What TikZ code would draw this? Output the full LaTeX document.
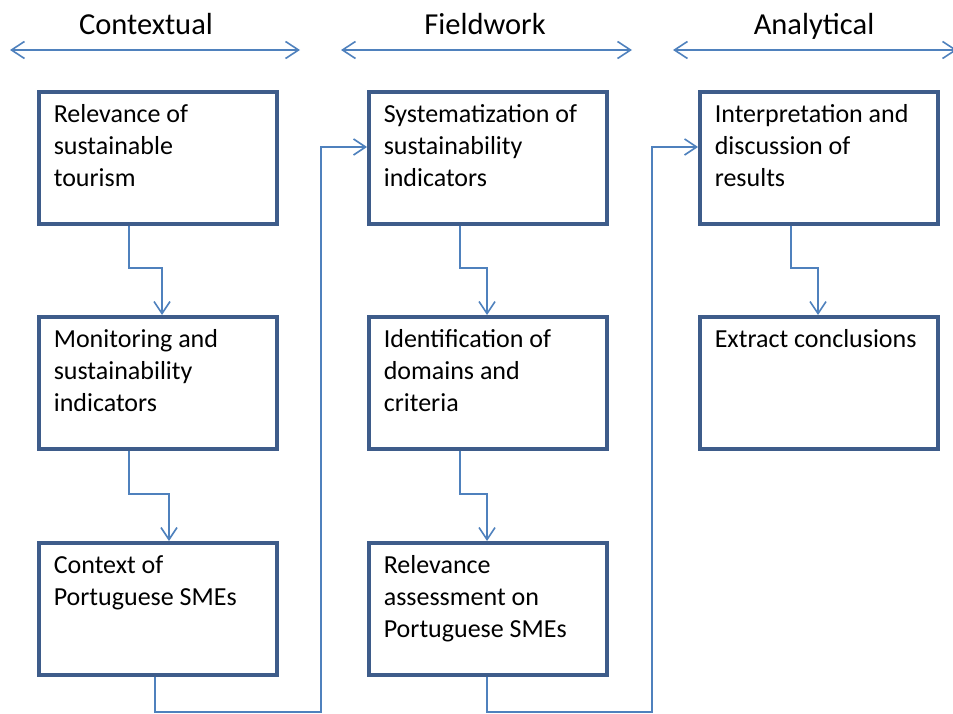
\documentclass[tikz,border=0pt]{standalone}
\usepackage{fontspec}
\setmainfont{Carlito}
\usetikzlibrary{arrows.meta,calc}
\definecolor{boxblue}{RGB}{62,92,138}
\definecolor{lineblue}{RGB}{79,129,189}
\newcommand{\boxtext}[1]{\parbox[t][106pt][t]{208pt}{\raggedright\fontsize{26pt}{32pt}\selectfont #1}}
\tikzset{
  stepbox/.style={draw=boxblue, line width=3.6pt, rectangle, minimum width=238pt, minimum height=132pt,
    inner xsep=15pt, inner ysep=13pt, anchor=north west, align=left, fill=white},
  conn/.style={draw=lineblue, line width=1.6pt, -{Straight Barb[length=12pt,width=16pt,line width=1.6pt]}},
  phase/.style={draw=lineblue, line width=1.6pt, {Straight Barb[length=13pt,width=17pt,line width=1.6pt]}-{Straight Barb[length=13pt,width=17pt,line width=1.6pt]}},
  head/.style={font=\fontsize{30.5pt}{34pt}\selectfont, inner sep=0pt, anchor=base}
}
\begin{document}
\begin{tikzpicture}[x=1pt,y=-1pt]
\useasboundingbox (0,0) rectangle (953,714);
% headers
\node[head] (h1) at (146,35) {Contextual};
\node[head] (h2) at (485,35) {Fieldwork};
\node[head] (h3) at (814,35) {Analytical};
\coordinate (a1l) at (10,50); \coordinate (a1r) at (300,50);
\coordinate (a2l) at (341,50); \coordinate (a2r) at (632,50);
\coordinate (a3l) at (673,50); \coordinate (a3r) at (957,50);
\draw[phase] (a1l) -- (a1r);
\draw[phase] (a2l) -- (a2r);
\draw[phase] (a3l) -- (a3r);
% boxes
\node[stepbox] (b1) at (37,90) {\boxtext{Relevance of\\sustainable\\tourism}};
\node[stepbox] (b2) at (37,315) {\boxtext{Monitoring and\\sustainability\\indicators}};
\node[stepbox] (b3) at (37,541) {\boxtext{Context of\\Portuguese SMEs}};
\node[stepbox] (b4) at (367,90) {\boxtext{Systematization of\\sustainability\\indicators}};
\node[stepbox] (b5) at (367,315) {\boxtext{Identification of\\domains and\\criteria}};
\node[stepbox] (b6) at (367,541) {\boxtext{Relevance\\assessment on\\Portuguese SMEs}};
\node[stepbox] (b7) at (698,90) {\boxtext{Interpretation and\\discussion of\\results}};
\node[stepbox] (b8) at (698,315) {\boxtext{Extract conclusions}};
% connectors within columns
\draw[conn] (b1.south -| 129,0) |- (162,268) -- (b2.north -| 162,0);
\draw[conn] (b2.south -| 129,0) |- (169,494) -- (b3.north -| 169,0);
\draw[conn] (b4.south -| 460,0) |- (487,268) -- (b5.north -| 487,0);
\draw[conn] (b5.south -| 460,0) |- (487,494) -- (b6.north -| 487,0);
\draw[conn] (b7.south -| 791,0) |- (818,268) -- (b8.north -| 818,0);
% connectors between columns
\draw[conn] (b3.south -| 155,0) |- (321,712) |- (b4.west |- 0,147);
\draw[conn] (b6.south -| 487,0) |- (652,712) |- (b7.west |- 0,147);
\end{tikzpicture}
\end{document}
